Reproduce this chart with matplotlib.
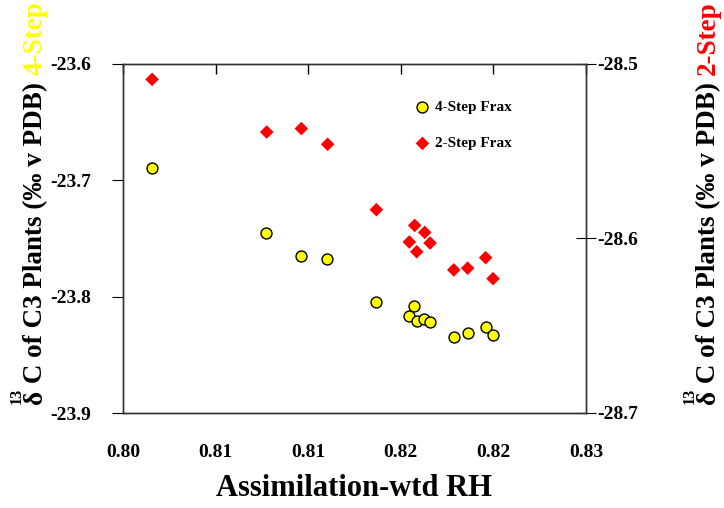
import numpy as np
import matplotlib.pyplot as plt

plt.rcParams['font.family'] = ['Liberation Serif', 'DejaVu Serif']
plt.rcParams['font.weight'] = 'bold'

# Assimilation-weighted RH and d13C values
rh = [0.80155, 0.80772, 0.80961, 0.81103, 0.81368, 0.81573, 0.81546,
      0.81586, 0.81625, 0.81656, 0.81786, 0.81861, 0.81958, 0.81998]
d13c_4step = [-23.689, -23.745, -23.765, -23.768, -23.805, -23.808, -23.817,
              -23.821, -23.819, -23.822, -23.835, -23.831, -23.826, -23.833]
rh_2 = [0.80157, 0.80776, 0.80963, 0.81105, 0.81368, 0.81575, 0.81629,
        0.81546, 0.81658, 0.81586, 0.81786, 0.81861, 0.81958, 0.81998]
d13c_2step = [-28.5088, -28.539, -28.537, -28.546, -28.5835, -28.5925, -28.5965,
              -28.602, -28.6026, -28.6076, -28.618, -28.617, -28.611, -28.623]

xticks = [0.800, 0.805, 0.810, 0.815, 0.820, 0.825]
xtick_labels = ['0.80', '0.81', '0.81', '0.82', '0.82', '0.83']
yticks_left = [-23.9, -23.8, -23.7, -23.6]
yticks_right = [-28.7, -28.6, -28.5]

W, H = 724, 508
fig = plt.figure(figsize=(W / 100, H / 100), dpi=100)
ax = fig.add_axes([123 / W, 1 - 413 / H, (586 - 123) / W, (413 - 64) / H])
ax2 = ax.twinx()

s1 = ax.scatter(rh, d13c_4step, s=62, c='#FFFF00', edgecolors='black',
                linewidths=1, marker='o', label='4-Step Frax', zorder=3)
s2 = ax2.scatter(rh_2, d13c_2step, s=48, c='#FF0000', edgecolors='none',
                 marker='D', label='2-Step Frax', zorder=3)

ax.set_xlim(0.800, 0.825)
ax.set_ylim(-23.9, -23.6)
ax2.set_ylim(-28.7, -28.5)

ax.set_xticks(xticks)
ax.set_xticklabels(xtick_labels)
ax.set_yticks(yticks_left)
ax.set_yticklabels([f'{v:.1f}' for v in yticks_left])
ax2.set_yticks(yticks_right)
ax2.set_yticklabels([f'{v:.1f}' for v in yticks_right])

ax.tick_params(axis='x', bottom=True, top=True, direction='in', length=7,
               labelsize=14, pad=22, width=1)
ax.tick_params(axis='x', which='major', bottom=False)
ax.tick_params(axis='y', direction='out', length=8, labelsize=14, pad=15)
ax2.tick_params(axis='y', direction='inout', length=14, labelsize=14, pad=1)

for a in (ax, ax2):
    for sp in a.spines.values():
        sp.set_color('#333333')
        sp.set_linewidth(1)

ax.set_xlabel('Assimilation-wtd RH', fontsize=22, fontweight='bold', labelpad=10)

ax2.legend(handles=[s1, s2], loc='upper left', bbox_to_anchor=(0.617, 0.914),
           frameon=False, fontsize=11, labelspacing=1.5, handletextpad=0.3,
           handlelength=1.0, borderaxespad=0)

# rotated y labels, built from several pieces
fig.canvas.draw()
renderer = fig.canvas.get_renderer()


def vlabel(xb, ybot, step_text, step_color, size=19.5):
    # xb: baseline x in pixels, ybot: bottom y in image pixels
    y = H - ybot
    d = fig.text(xb / W, y / H, 'δ', rotation=90, rotation_mode='anchor',
                 ha='left', va='baseline', fontsize=size, fontweight='bold')
    fig.text((xb - size * 1.1) / W, y / H, '13', rotation=90,
             rotation_mode='anchor', ha='left', va='baseline',
             fontsize=size * 0.6, fontweight='bold')
    y += d.get_window_extent(renderer).height
    t = fig.text(xb / W, y / H, ' C of C3 Plants (‰ v PDB) ', rotation=90,
                 rotation_mode='anchor', ha='left', va='baseline',
                 fontsize=size, fontweight='bold')
    y += t.get_window_extent(renderer).height
    fig.text(xb / W, y / H, step_text, rotation=90, rotation_mode='anchor',
             ha='left', va='baseline', fontsize=size, fontweight='bold',
             color=step_color)


vlabel(42, 404, '4-Step', '#FFFF00')
vlabel(715, 404, '2-Step', '#FF0000')

fig.savefig('out.png', dpi=100)
